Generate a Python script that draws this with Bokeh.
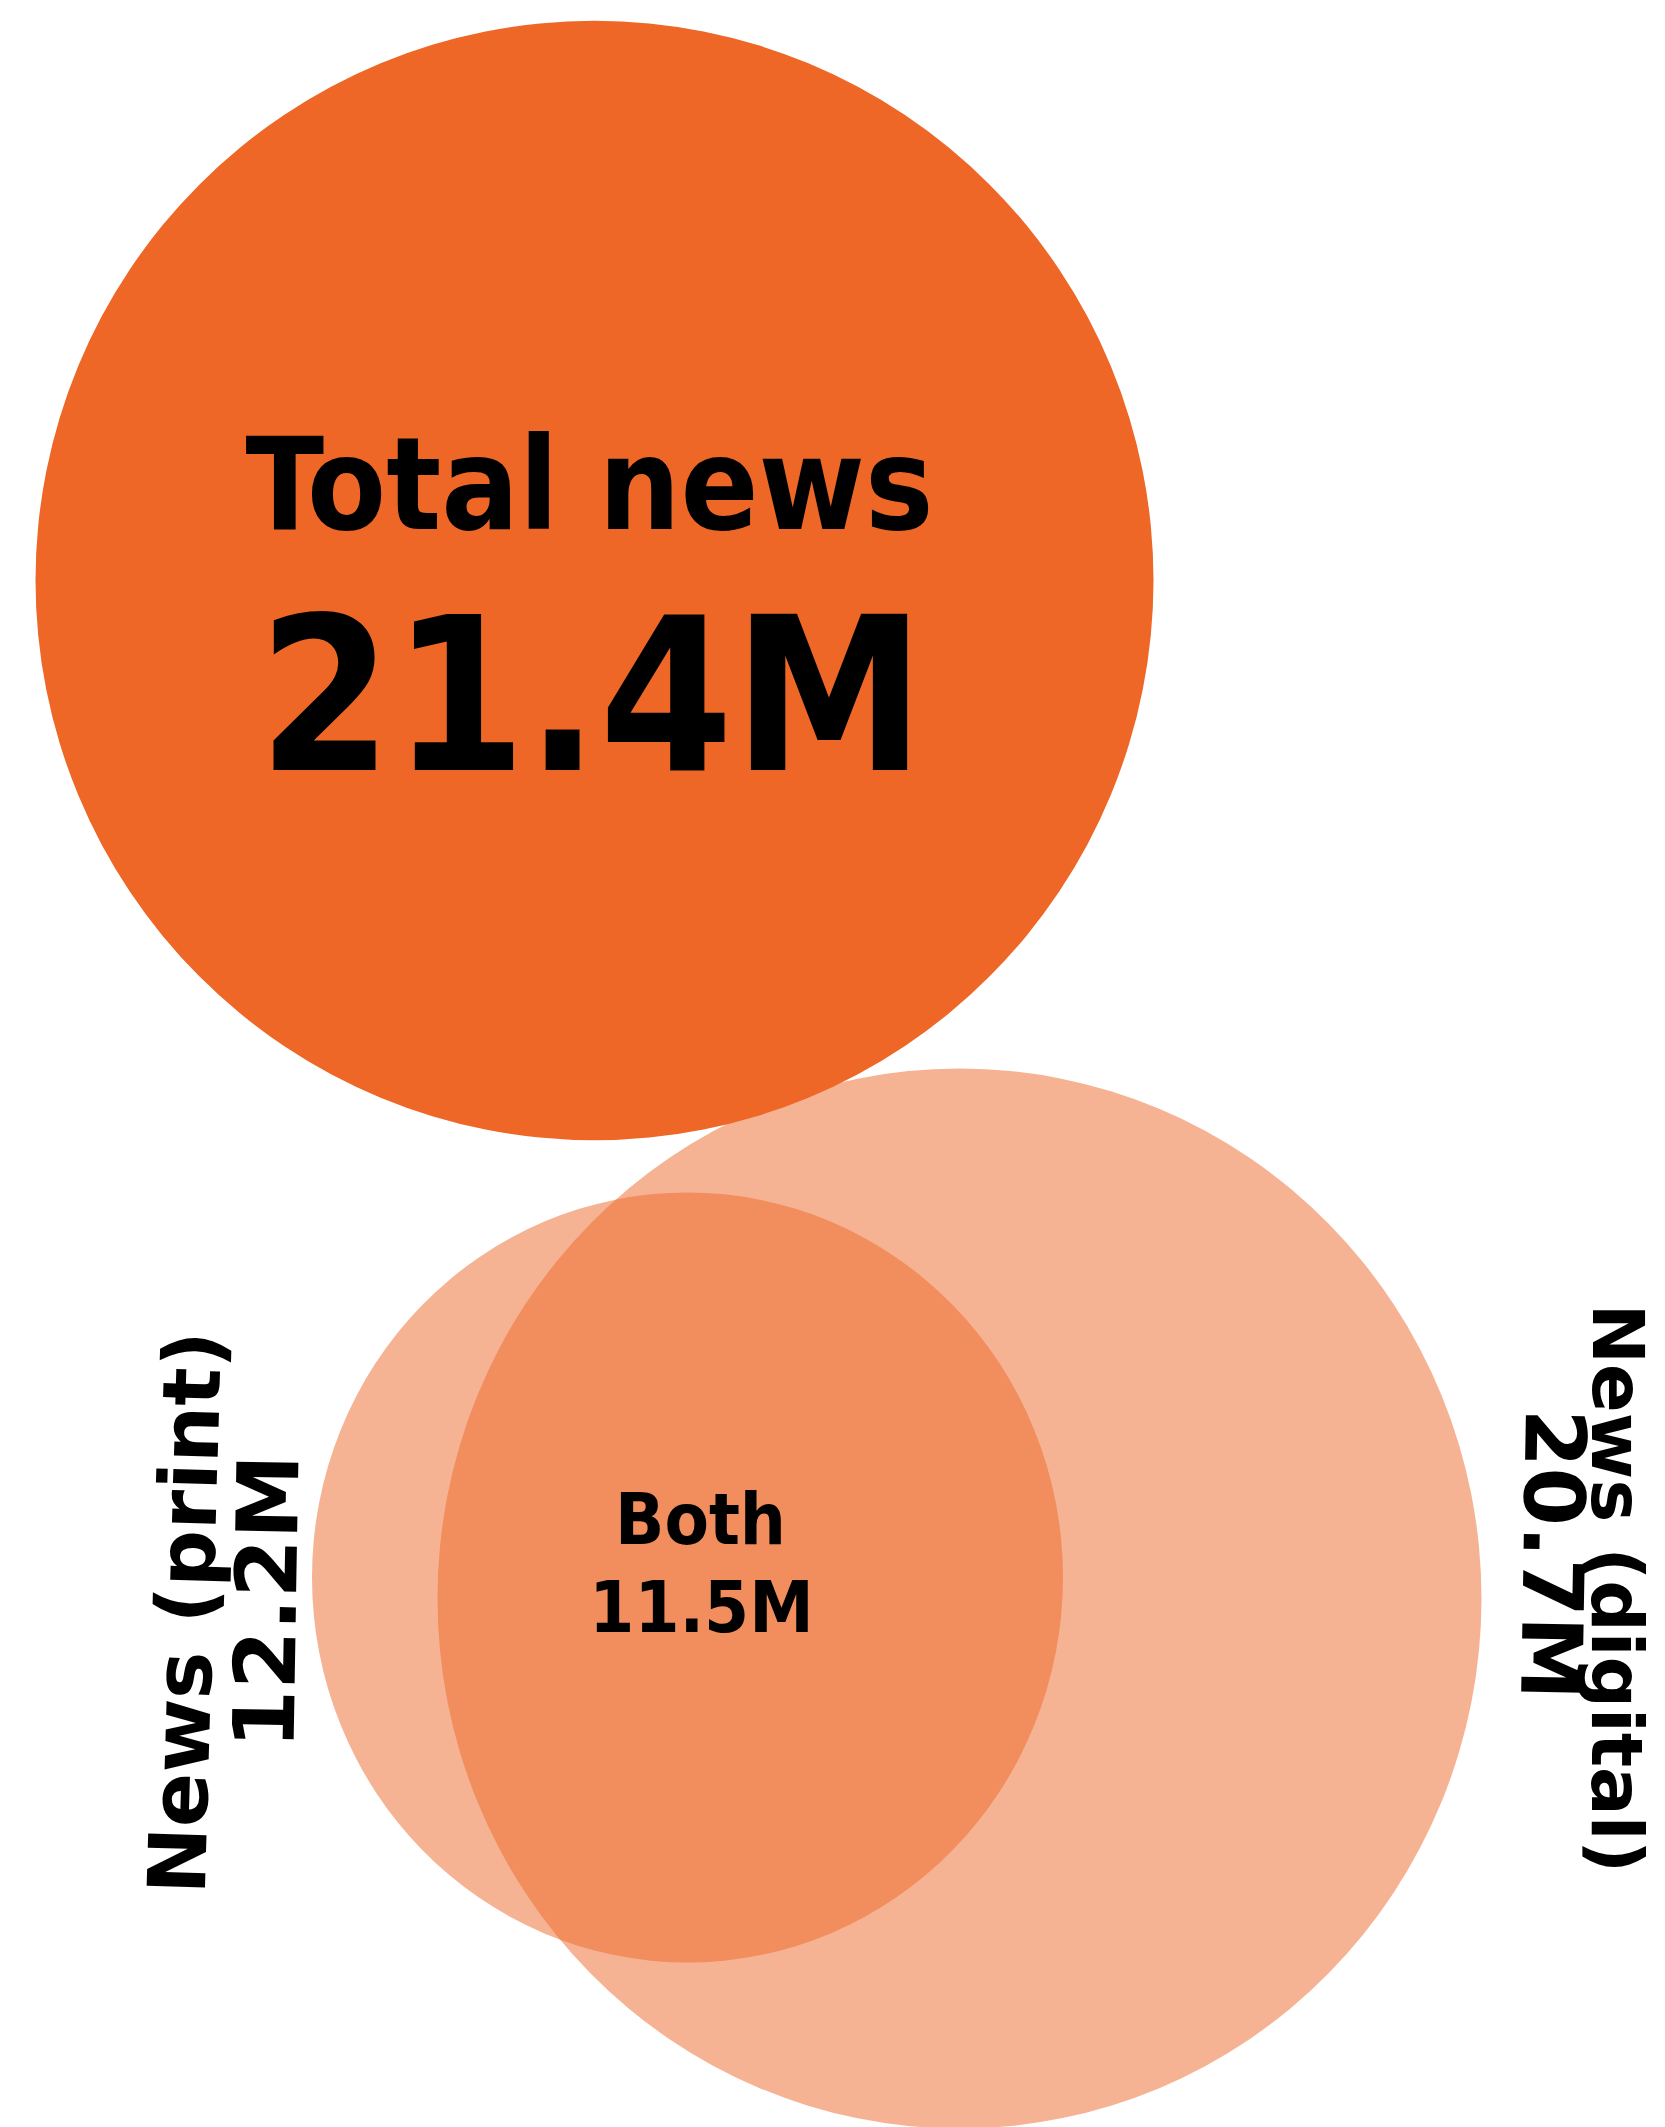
import math
from bokeh.plotting import figure
from bokeh.models import Range1d, ColumnDataSource
from bokeh.core.properties import value
from bokeh.embed import file_html
from bokeh.resources import INLINE

# ---- data ----
total_label = "Total news"
total_value = 21.4
set_labels = ["News (print)", "News (digital)"]
set_values = [12.2, 20.7]
both_label = "Both"
both_value = 11.5

def fmt(v):
    return f"{v}M"

# ---- layout (image pixel coordinates, y downward) ----
W, H = 1665, 2127
ORANGE = "#EE6727"
COND = "DejaVu Sans Condensed, DejaVu Sans"
total_circle = dict(cx=594, cy=580, w=1118, h=1120)
set_circles = [dict(cx=687, cy=1577, w=751, h=770),    # print
               dict(cx=959, cy=1598, w=1044, h=1060)]  # digital

def fy(y):
    return H - y

p = figure(width=W, height=H, x_range=Range1d(0, W), y_range=Range1d(0, H),
           output_backend="svg", toolbar_location=None,
           x_axis_type=None, y_axis_type=None, min_border=0)
p.grid.visible = False
p.outline_line_color = None
p.background_fill_color = "white"
p.border_fill_color = "white"

# set circles (translucent)
src_sets = ColumnDataSource(dict(
    x=[c["cx"] for c in set_circles],
    y=[fy(c["cy"]) for c in set_circles],
    w=[c["w"] for c in set_circles],
    h=[c["h"] for c in set_circles],
))
p.ellipse(x="x", y="y", width="w", height="h", source=src_sets,
          fill_color=ORANGE, fill_alpha=0.5, line_color=None)

# total circle (solid)
p.ellipse(x=[total_circle["cx"]], y=[fy(total_circle["cy"])],
          width=[total_circle["w"]], height=[total_circle["h"]],
          fill_color=ORANGE, fill_alpha=1.0, line_color=None)

# total texts
p.text(x=[589], y=[fy(484)], text=[total_label], text_align="center",
       text_baseline="middle", text_font=value(COND),
       text_font_style="bold", text_font_size="128px", text_color="black")
p.text(x=[591], y=[fy(695)], text=[fmt(total_value)], text_align="center",
       text_baseline="middle", text_font=value(COND),
       text_font_style="bold", text_font_size="214px", text_color="black")

# both texts
p.text(x=[700, 701], y=[fy(1518), fy(1606)], text=[both_label, fmt(both_value)],
       text_align="center", text_baseline="middle",
       text_font=value(COND), text_font_style="bold",
       text_font_size="72px", text_color="black")

# set labels (rotated)
lab_x = [185, 266, 1617, 1552]
lab_y = [fy(1612), fy(1601), fy(1588), fy(1554)]
lab_t = [set_labels[0], fmt(set_values[0]), set_labels[1], fmt(set_values[1])]
lab_a = [math.radians(88.3), math.radians(89), math.radians(-90), math.radians(-91)]
lab_s = ["80px", "85px", "72px", "84px"]
p.text(x=lab_x, y=lab_y, text=lab_t, angle=lab_a, text_align="center",
       text_baseline="middle", text_font=value("DejaVu Sans"),
       text_font_style="bold", text_font_size=lab_s, text_color="black")

open("out.html", "w").write(file_html(p, INLINE))
